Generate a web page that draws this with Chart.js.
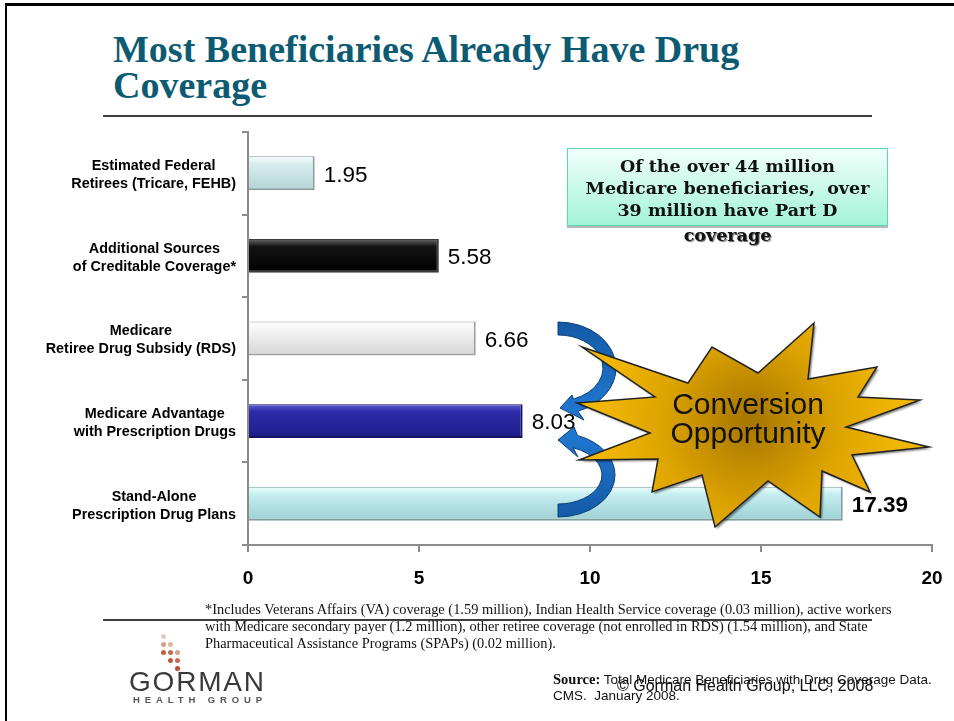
<!DOCTYPE html>
<html>
<head>
<meta charset="utf-8">
<script src="https://cdn.jsdelivr.net/npm/chart.js@4.4.0/dist/chart.umd.min.js"></script>
<style>
  body { margin: 0; background: #fff; }
  #page { position: relative; width: 954px; height: 721px; overflow: hidden; background: #fff; }
  #frame { position: absolute; left: 5px; top: 3px; width: 1000px; height: 1000px; border-top: 3px solid #000; border-left: 2px solid #000; }
  #chartBox { position: absolute; left: 0; top: 0; width: 954px; height: 721px; }
  .title { position: absolute; left: 113px; top: 31px; font: bold 38px "Liberation Serif", serif; line-height: 36px; color: #0d5b73; white-space: nowrap; }
  .rule { position: absolute; left: 103px; width: 769px; height: 2px; background: #3c3c3c; }
  #note { position: absolute; left: 567px; top: 148px; width: 319px; height: 76px; border: 1px solid #5ad8b2;
          background: linear-gradient(#f2fffa, #a2f4d8); box-shadow: 0 2px 0 #b8b8b8; }
  .noteText { position: absolute; left: 567px; top: 155px; width: 321px; text-align: center;
              font: bold 17.5px "DejaVu Serif", serif; line-height: 22px; color: #111; }
  .noteText .last { margin-top: 3px; text-shadow: 1px 1px 1px #666; }
  #burstText { position: absolute; left: 638px; top: 389px; width: 220px; text-align: center;
               font: 30px "Liberation Sans", Arial, sans-serif; line-height: 29px; color: #111; }
  .foot { position: absolute; left: 205px; top: 601px; font: 14.4px "Liberation Serif", serif; line-height: 17px; color: #111; white-space: nowrap; }
  .dot { position: absolute; width: 5px; height: 5px; border-radius: 50%; }
  .gorman { position: absolute; left: 129px; top: 666px; font: 28px "Liberation Sans", Arial, sans-serif; color: #3a3a3a; letter-spacing: 1.8px; }
  .health { position: absolute; left: 133px; top: 694px; font: bold 9.5px "Liberation Sans", Arial, sans-serif; color: #555; letter-spacing: 4.9px; }
  .source { position: absolute; left: 553px; top: 671px; font: 13.5px "Liberation Sans", Arial, sans-serif; line-height: 15px; color: #111; white-space: nowrap; }
  .source b { font: bold 14.5px "Liberation Serif", serif; }
  .copy { position: absolute; left: 617px; top: 677px; font: 16px "Liberation Sans", Arial, sans-serif; color: #111; white-space: nowrap; }
</style>
</head>
<body>
<div id="page">
  <div id="frame"></div>
  <div class="title">Most Beneficiaries Already Have Drug<br>Coverage</div>
  <div class="rule" style="top:115px"></div>

  <div id="chartBox"><canvas id="coverageChart"></canvas></div>

  <div id="note"></div>
  <div class="noteText">Of the over 44 million<br>Medicare beneficiaries,&nbsp; over<br>39 million have Part D<div class="last">coverage</div></div>

  <div id="burstText">Conversion<br>Opportunity</div>

  <div class="foot">*Includes Veterans Affairs (VA) coverage (1.59 million), Indian Health Service coverage (0.03 million), active workers<br>with Medicare secondary payer (1.2 million), other retiree coverage (not enrolled in RDS) (1.54 million), and State<br>Pharmaceutical Assistance Programs (SPAPs) (0.02 million).</div>
  <div class="rule" style="top:619px"></div>

  <div id="logoDots"></div>
  <div class="gorman">GORMAN</div>
  <div class="health">HEALTH GROUP</div>

  <div class="source"><b>Source:</b> Total Medicare Beneficiaries with Drug Coverage Data.<br>CMS.&nbsp; January 2008.</div>
  <div class="copy">© Gorman Health Group, LLC, 2008</div>
</div>

<script>
// Kategorien (zweizeilig, wie im Original)
const categories = [
  ['Estimated Federal', 'Retirees (Tricare, FEHB)'],
  ['Additional Sources', 'of Creditable Coverage*'],
  ['Medicare', 'Retiree Drug Subsidy (RDS)'],
  ['Medicare Advantage', 'with Prescription Drugs'],
  ['Stand-Alone', 'Prescription Drug Plans']
];
// Millionen Versicherte
const values = [1.95, 5.58, 6.66, 8.03, 17.39];
const xTicks = [0, 5, 10, 15, 20];

// Farbverläufe der Balken (oben, mitte, unten) und Randfarbe
const barTop = ['#f6fcfc', '#6a6a6a', '#ffffff', '#6262d0', '#eefdfd'];
const barMid = ['#d8eef0', '#141414', '#f5f5f5', '#2c2cab', '#c6eff1'];
const barBottom = ['#b3d3d6', '#000000', '#d6d6d6', '#1c1c86', '#9ccfd3'];
const barEdge = ['#8a9b9d', '#3a3a3a', '#a0a0a0', '#12125e', '#7f9d9f'];
const labelBold = [false, false, false, false, true];


function barFill(context) {
  const i = context.dataIndex;
  const chart = context.chart;
  if (!chart.chartArea) return barMid[i];
  const y = chart.scales.y.getPixelForValue(i);
  const g = chart.ctx.createLinearGradient(0, y - 17, 0, y + 17);
  g.addColorStop(0, barTop[i]);
  g.addColorStop(0.22, barMid[i]);
  g.addColorStop(1, barBottom[i]);
  return g;
}


// Werte rechts neben die Balken schreiben
const valueLabels = {
  id: 'valueLabels',
  afterDatasetsDraw(chart) {
    const ctx = chart.ctx;
    ctx.save();
    ctx.fillStyle = '#000';
    ctx.textBaseline = 'middle';
    chart.getDatasetMeta(0).data.forEach((bar, i) => {
      ctx.font = (labelBold[i] ? 'bold ' : '') + '22.5px "Liberation Sans", Arial';
      ctx.fillText(values[i].toFixed(2), bar.x + 9, bar.y + 2);
    });
    ctx.restore();
  }
};


// Kategorie-Beschriftung: Block rechtsbündig, Zeilen zentriert
const categoryLabels = {
  id: 'categoryLabels',
  afterDraw(chart) {
    const ctx = chart.ctx;
    const scale = chart.scales.y;
    const right = chart.chartArea.left - 12;
    ctx.save();
    ctx.font = 'bold 14.4px "Liberation Sans", Arial';
    ctx.fillStyle = '#000';
    ctx.textAlign = 'center';
    ctx.textBaseline = 'middle';
    categories.forEach((lines, i) => {
      const y = scale.getPixelForValue(i);
      const w = Math.max(...lines.map(l => ctx.measureText(l).width));
      lines.forEach((l, k) => ctx.fillText(l, right - w / 2, y - 7 + k * 18));
    });
    ctx.restore();
  }
};


// Deko: die zwei blauen Pfeile und der Stern "Conversion Opportunity"
const burstPoints = [
  [-173, -22], [-95, -28], [-168, -78], [-62, -42], [-38, -78], [8, -52], [64, -102], [58, -46],
  [127, -58], [108, -28], [170, -25], [96, 2], [179, 22], [102, 30], [120, 67], [72, 46],
  [70, 92], [18, 56], [-35, 102], [-48, 50], [-98, 67], [-92, 34], [-171, 35], [-100, 8]
];

// Bogenpfeil: äußerer Bogen, Pfeilspitze, innerer Bogen zurück
function drawArrow(ctx, a) {
  const d = Math.PI / 180;
  ctx.beginPath();
  ctx.ellipse(a.cx, a.cy, a.rx, a.ry, 0, a.start * d, a.end * d, a.ccw);
  a.head.forEach(p => ctx.lineTo(p[0], p[1]));
  ctx.ellipse(a.cx, a.cy, a.rx - 13, a.ry - 13, 0, a.end * d, a.start * d, !a.ccw);
  ctx.closePath();
  const g = ctx.createLinearGradient(a.cx, a.cy - a.ry, a.cx, a.cy + a.ry);
  g.addColorStop(0, a.c0);
  g.addColorStop(1, a.c1);
  ctx.fillStyle = g;
  ctx.fill();
  ctx.lineWidth = 1;
  ctx.strokeStyle = '#0b3f78';
  ctx.stroke();
}

const arrows = [
  { cx: 558, cy: 368, rx: 58, ry: 46, start: -90, end: 70, ccw: false,
    head: [[584, 420], [560, 408], [572, 395]], c0: '#145aa6', c1: '#1f78d0' },
  { cx: 558, cy: 475, rx: 57, ry: 42, start: 90, end: -70, ccw: true,
    head: [[574, 427], [558, 440], [578, 457]], c0: '#1f78d0', c1: '#145aa6' }
];

const decoration = {
  id: 'decoration',
  afterDraw(chart) {
    const ctx = chart.ctx;
    ctx.save();
    arrows.forEach(a => drawArrow(ctx, a));

    const cx = 750, cy = 425;
    ctx.beginPath();
    burstPoints.forEach((p, i) => {
      if (i === 0) ctx.moveTo(cx + p[0], cy + p[1]);
      else ctx.lineTo(cx + p[0], cy + p[1]);
    });
    ctx.closePath();
    const g = ctx.createRadialGradient(cx, cy - 5, 5, cx, cy, 150);
    g.addColorStop(0, '#a87800');
    g.addColorStop(0.55, '#dca200');
    g.addColorStop(1, '#f2b705');
    ctx.shadowColor = 'rgba(0,0,0,0.45)';
    ctx.shadowOffsetX = 2;
    ctx.shadowOffsetY = 2;
    ctx.shadowBlur = 2;
    ctx.fillStyle = g;
    ctx.fill();
    ctx.shadowColor = 'transparent';
    ctx.lineWidth = 1.5;
    ctx.strokeStyle = '#222';
    ctx.stroke();
    ctx.restore();
  }
};


new Chart(document.getElementById('coverageChart'), {
  type: 'bar',
  data: {
    labels: categories,
    datasets: [{
      data: values,
      backgroundColor: barFill,
      borderColor: barEdge,
      borderWidth: { top: 1, right: 2, bottom: 2, left: 0 },
      borderSkipped: false,
      barPercentage: 0.41,
      categoryPercentage: 1
    }]
  },
  options: {
    indexAxis: 'y',
    responsive: true,
    maintainAspectRatio: false,
    animation: false,
    layout: { padding: { top: 132, right: 22, left: 0, bottom: 0 } },
    plugins: { legend: { display: false }, tooltip: { enabled: false } },
    scales: {
      x: {
        min: 0,
        max: 20,
        afterBuildTicks: (scale) => { scale.ticks = xTicks.map(v => ({ value: v })); },
        afterFit: (scale) => { scale.height = 176; },
        grid: { drawOnChartArea: false, drawTicks: true, tickLength: 7, color: '#8c8c8c', lineWidth: 2 },
        border: { color: '#8c8c8c', width: 2 },
        // padding 0 (sonst wird rechts zu viel Platz reserviert), Abstand über lineHeight
        ticks: { color: '#000', padding: 0, font: { family: '"Liberation Sans", Arial', size: 19, weight: 'bold', lineHeight: 2.84 } }
      },
      y: {
        afterFit: (scale) => { scale.width = 248; },
        grid: { drawOnChartArea: false, drawTicks: true, tickLength: 6, color: '#8c8c8c', lineWidth: 2 },
        border: { color: '#8c8c8c', width: 2 },
        ticks: { display: false }
      }
    }
  },
  plugins: [valueLabels, categoryLabels, decoration]
});


// Logo-Punkte (Gorman Health Group)
const logoDots = [[163, 636, '#e8c8c0'], [163, 644, '#d89a88'], [170, 644, '#e0b0a0'],
  [163, 652, '#c0603f'], [170, 652, '#c86a4c'], [177, 652, '#d8a090'],
  [170, 660, '#c05a3a'], [177, 660, '#c86c50'], [177, 668, '#b84c2c']];
logoDots.forEach(p => {
  const el = document.createElement('div');
  el.className = 'dot';
  el.style.left = (p[0] - 2) + 'px';
  el.style.top = (p[1] - 2) + 'px';
  el.style.background = p[2];
  document.getElementById('logoDots').appendChild(el);
});
</script>
</body>
</html>
